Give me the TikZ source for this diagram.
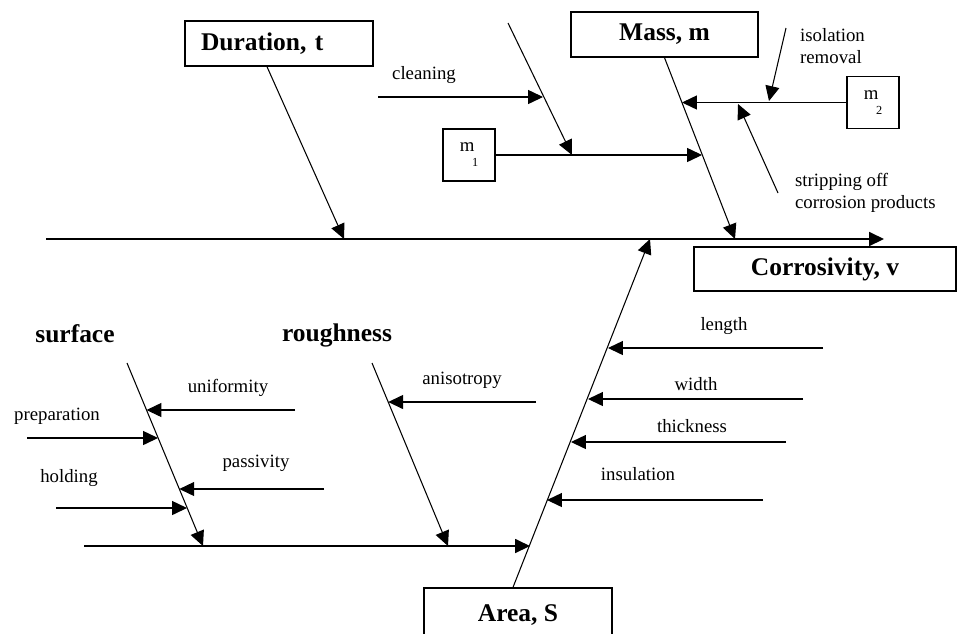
\documentclass[tikz,border=0pt]{standalone}
\usepackage{fontspec}
\setmainfont{Liberation Serif}
\usetikzlibrary{arrows.meta,calc}

\tikzset{
  effect/.style={draw, thick, inner sep=0pt, font=\bfseries\fontsize{14.5}{17}\selectfont},
  heading/.style={inner sep=0pt, font=\bfseries\fontsize{14.5}{17}\selectfont},
  cause/.style={inner sep=1pt, align=left, font=\fontsize{10.7}{12.5}\selectfont},
  massbox/.style={draw, thick, inner sep=0pt, minimum width=1.04cm, minimum height=1.04cm,
    align=left, font=\fontsize{10.7}{12.5}\selectfont},
}
\newcommand{\subidx}[1]{{\fontsize{7}{8}\selectfont #1}}

\begin{document}
\begin{tikzpicture}[x=0.02cm, y=-0.02cm, >={Triangle[length=8.5pt,width=8pt]}]
\useasboundingbox (0,0) rectangle (959,633);

% boxes
\node[effect, minimum width=3.76cm, minimum height=0.9cm, text width=3.12cm, inner xsep=0.32cm, align=left] (dur) at (279,43.5) {Duration, t};
\node[effect, minimum width=3.74cm, minimum height=0.9cm] (mass) at (664.5,34.5) {Mass, m};
\node[effect, minimum width=5.24cm, minimum height=0.88cm] (corr) at (825,269) {Corrosivity, v};
\node[effect, minimum width=3.76cm, minimum height=1.08cm] (area) at (518,615) {Area, S};
\node[massbox] (m1) at (469,155) {m\\[-4pt]\hspace*{7pt}\subidx{1}};
\node[massbox] (m2) at (873,102.5) {m\\[-4pt]\hspace*{7pt}\subidx{2}};

\node[heading] (surf) at (75,334) {surface};
\node[heading] (rough) at (337,335) {roughness};

% main spine
\coordinate (tail) at (46,239);
\coordinate (head) at (884,239);
\draw[->, thick] (tail) -- (head);

% upper bones
\coordinate (durtip) at (344,239);
\coordinate (masstip) at (735,239);
\coordinate (cltop) at (508,23);
\coordinate (cltip) at (572,155);
\draw[->, semithick] ($(dur.south)+(-12,0)$) -- (durtip);
\draw[->, semithick] (mass.south) -- (masstip);
\draw[->, semithick] (cltop) -- (cltip);

\coordinate (cleanL) at (378,97);
\coordinate (cleanR) at (543,97);
\draw[->, semithick] (cleanL) -- (cleanR);
\node[cause] (lclean) at (424,75) {cleaning};

\coordinate (m1tip) at (702,155);
\coordinate (m2tip) at (682,102.5);
\draw[->, semithick] (m1) -- (m1tip);
\draw[->, semithick] (m2) -- (m2tip);

\coordinate (isoA) at (786,28);
\coordinate (isoB) at (769,101);
\draw[->, semithick] (isoA) -- (isoB);
\node[cause, anchor=west] (liso) at (798,46) {isolation\\removal};

\coordinate (stripA) at (778,193);
\coordinate (stripB) at (738,104);
\draw[->, semithick] (stripA) -- (stripB);
\node[cause, anchor=west] (lstrip) at (793,193) {stripping off\\corrosion products};

% area bone
\coordinate (areatip) at (650,239);
\draw[->, semithick] ($(area.north)+(-5,0)$) -- (areatip);

\foreach \name/\txt/\xa/\xb/\yy/\lx/\ly in {
    len/length/823/608/348/724/326,
    wid/width/803/588/399/696/384,
    thk/thickness/786/571/442/692/426,
    ins/insulation/763/547/500/638/474} {
  \coordinate (\name A) at (\xa,\yy);
  \coordinate (\name B) at (\xb,\yy);
  \draw[->, semithick] (\name A) -- (\name B);
  \node[cause] (l\name) at (\lx,\ly) {\txt};
}

% lower spine and its bones
\coordinate (ltail) at (84,546);
\coordinate (lhead) at (530,546);
\draw[->, thick] (ltail) -- (lhead);

\coordinate (surftop) at (127,363);
\coordinate (surftip) at (203,546);
\coordinate (roughtop) at (372,363);
\coordinate (roughtip) at (448,546);
\draw[->, semithick] (surftop) -- (surftip);
\draw[->, semithick] (roughtop) -- (roughtip);

\foreach \name/\txt/\xa/\xb/\yy/\lx/\ly in {
    unif/uniformity/295/146.5/410/228/388,
    prep/preparation/27/158/438/57/416,
    pass/passivity/324/179.3/489/256/463,
    hold/holding/56/187/508/69/478,
    aniso/anisotropy/536/388.2/402/462/380} {
  \coordinate (\name A) at (\xa,\yy);
  \coordinate (\name B) at (\xb,\yy);
  \draw[->, semithick] (\name A) -- (\name B);
  \node[cause] (l\name) at (\lx,\ly) {\txt};
}
\end{tikzpicture}
\end{document}
